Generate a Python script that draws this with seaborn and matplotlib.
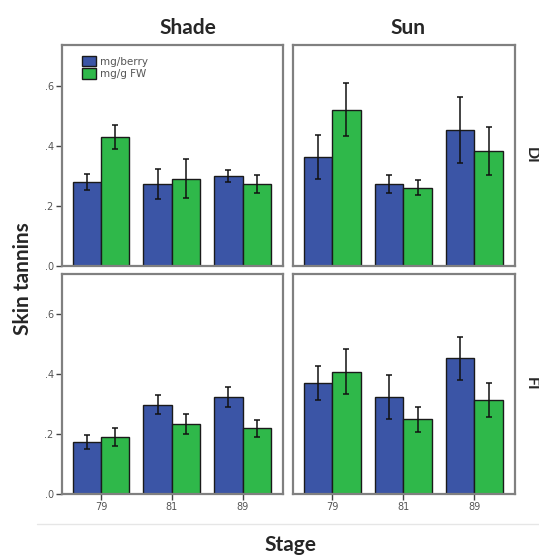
import numpy as np
import pandas as pd
import matplotlib
matplotlib.use("Agg")
import matplotlib.pyplot as plt
from matplotlib.lines import Line2D
from matplotlib.patches import Patch
import seaborn as sns

stages = ["79", "81", "89"]
measures = ["mg/berry", "mg/g FW"]
light = ["Shade", "Sun"]
irrigation = ["DI", "FI"]

shade_di_berry = [0.279, 0.272, 0.300]
shade_di_berry_err = [0.027, 0.050, 0.019]
shade_di_fw = [0.429, 0.291, 0.272]
shade_di_fw_err = [0.039, 0.066, 0.029]
sun_di_berry = [0.363, 0.274, 0.452]
sun_di_berry_err = [0.074, 0.030, 0.110]
sun_di_fw = [0.520, 0.261, 0.382]
sun_di_fw_err = [0.088, 0.024, 0.081]
shade_fi_berry = [0.175, 0.299, 0.325]
shade_fi_berry_err = [0.023, 0.031, 0.033]
shade_fi_fw = [0.190, 0.234, 0.219]
shade_fi_fw_err = [0.029, 0.032, 0.028]
sun_fi_berry = [0.372, 0.324, 0.454]
sun_fi_berry_err = [0.057, 0.075, 0.072]
sun_fi_fw = [0.409, 0.249, 0.314]
sun_fi_fw_err = [0.076, 0.042, 0.056]

y_ticks = [0.0, 0.2, 0.4, 0.6]
y_ticklabels = [".0", ".2", ".4", ".6"]

panels = {
    ("Shade", "DI"): (shade_di_berry, shade_di_berry_err, shade_di_fw, shade_di_fw_err),
    ("Sun", "DI"): (sun_di_berry, sun_di_berry_err, sun_di_fw, sun_di_fw_err),
    ("Shade", "FI"): (shade_fi_berry, shade_fi_berry_err, shade_fi_fw, shade_fi_fw_err),
    ("Sun", "FI"): (sun_fi_berry, sun_fi_berry_err, sun_fi_fw, sun_fi_fw_err),
}

rows = []
for (l, irr), (b, be, f, fe) in panels.items():
    for i, s in enumerate(stages):
        rows.append(dict(light=l, irr=irr, stage=s, measure=measures[0], value=b[i], err=be[i]))
        rows.append(dict(light=l, irr=irr, stage=s, measure=measures[1], value=f[i], err=fe[i]))
df = pd.DataFrame(rows)

sns.set_style("white")
plt.rcParams["font.family"] = ["DejaVu Sans"]
palette = {measures[0]: "#3b55a6", measures[1]: "#2fb84a"}

fig = plt.figure(figsize=(5.39, 5.58), dpi=100)
W, H = 539, 558
col_x = [(62, 283), (293, 515)]
row_y = [(45, 266), (274, 494)]
spine_col = "#808080"
tick_col = "#555555"
title_font = "Lato"

axes = {}
for ri, irr in enumerate(irrigation):
    for ci, l in enumerate(light):
        x0, x1 = col_x[ci]
        y0, y1 = row_y[ri]
        ax = fig.add_axes([x0 / W, 1 - y1 / H, (x1 - x0) / W, (y1 - y0) / H])
        sub = df[(df.light == l) & (df.irr == irr)]
        sns.barplot(data=sub, x="stage", y="value", hue="measure", order=stages,
                    hue_order=measures, palette=palette, errorbar=None,
                    width=0.8, edgecolor="#1a1a1a", linewidth=1.0, ax=ax,
                    legend=False, saturation=1)
        for cont, m in zip(ax.containers, measures):
            msub = sub[sub.measure == m].set_index("stage").loc[stages]
            xs = [bar.get_x() + bar.get_width() / 2 for bar in cont]
            ax.errorbar(xs, msub["value"].values, yerr=msub["err"].values,
                        fmt="none", ecolor="#111111", elinewidth=1.1,
                        capsize=2.5, capthick=1.1, zorder=5)
        ax.set_xlim(-0.55, 2.57)
        ax.set_ylim(0, 0.735)
        ax.set_xlabel("")
        ax.set_ylabel("")
        for sp in ax.spines.values():
            sp.set_color(spine_col)
            sp.set_linewidth(1.6)
        ax.set_yticks(y_ticks)
        ax.tick_params(axis="both", which="both", direction="out", length=4,
                       width=1.0, color="#444444", labelsize=7, labelcolor=tick_col, pad=2)
        if ci == 0:
            ax.set_yticklabels(y_ticklabels)
        else:
            ax.tick_params(axis="y", length=0, labelleft=False)
        if ri == 1:
            ax.set_xticks(range(len(stages)))
            ax.set_xticklabels(stages)
        else:
            ax.tick_params(axis="x", length=0, labelbottom=False)
        ax.tick_params(left=(ci == 0), bottom=(ri == 1))
        axes[(l, irr)] = ax

# legend
handles = [Patch(facecolor=palette[m], edgecolor="#1a1a1a", linewidth=1.0, label=m) for m in measures]
axes[("Shade", "DI")].legend(handles=handles, loc="upper left", bbox_to_anchor=(0.06, 0.98),
                             frameon=False, fontsize=7.5, labelcolor="#555555",
                             handlelength=1.4, handleheight=1.2, handletextpad=0.4,
                             labelspacing=0.15, borderaxespad=0.2)

# column titles
title_x = [188, 408]
for ci, l in enumerate(light):
    fig.text(title_x[ci] / W, 1 - 28 / H, l, ha="center", va="center",
             fontsize=15, fontweight="bold", family=title_font)
# row labels
for ri, irr in enumerate(irrigation):
    y0, y1 = row_y[ri]
    fig.text(531 / W, 1 - (y0 + y1) / 2 / H, irr, ha="center", va="center",
             rotation=-90, fontsize=11.5, fontweight="bold", family=title_font)

fig.text(23 / W, 1 - 279 / H, "Skin tannins", ha="center", va="center", rotation=90,
         fontsize=15, fontweight="bold", family=title_font)
fig.text(290 / W, 1 - 545 / H, "Stage", ha="center", va="center",
         fontsize=15, fontweight="bold", family=title_font)

fig.add_artist(Line2D([37 / W, 1.0], [1 - 524 / H, 1 - 524 / H], color="#e6e6e6", linewidth=1.0))

fig.savefig("out.png", dpi=100)
